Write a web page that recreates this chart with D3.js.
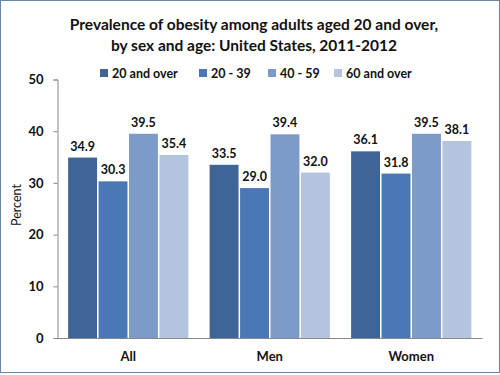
<!DOCTYPE html>
<html>
<head>
<meta charset="utf-8">
<script src="https://cdn.jsdelivr.net/npm/d3@7"></script>
<style>
  body { margin: 0; background: #fff; }
  svg { display: block; font-family: Lato, "Open Sans", sans-serif; }
</style>
</head>
<body>
<div id="chart"></div>
<script>
// obesity prevalence chart

var categories = ["All", "Men", "Women"];
var seriesNames = ["20 and over", "20 - 39", "40 - 59", "60 and over"];
var seriesColors = ["#3e6595", "#4a78b4", "#7c9bc9", "#b5c4de"];
var values = [
	[34.9, 30.3, 39.5, 35.4],
	[33.5, 29.0, 39.4, 32.0],
	[36.1, 31.8, 39.5, 38.1]
];
var yTicks = [0, 10, 20, 30, 40, 50];
var titleLines = ["Prevalence of obesity among adults aged 20 and over,",
	"by sex and age: United States, 2011-2012"];

var width = 500, height = 375;
var plotLeft = 57.5, plotRight = 482, plotTop = 79.5, plotBottom = 338;

var svg = d3.select('#chart')
	.append('svg')
	.attr('width', width)
	.attr('height', height);

svg.append('rect')
	.attr('x', 0.5).attr('y', 0.5)
	.attr('width', width - 1).attr('height', height - 3)
	.attr('fill', '#fff')
	.attr('stroke', '#6a86a6')
	.attr('stroke-width', 1);

var x = d3.scaleBand().domain(categories).range([plotLeft, plotRight]).paddingInner(0.15).paddingOuter(0.075);
var xs = d3.scaleBand().domain(seriesNames).range([0, x.bandwidth()]).paddingInner(0.05);
var y = d3.scaleLinear().domain([0, 50]).range([plotBottom, plotTop]);

// title
svg.selectAll('text.title')
	.data(titleLines)
	.enter()
	.append('text')
	.attr('class', 'title')
	.attr('x', 254)
	.attr('y', function(d, i) { return 30 + i * 20.5; })
	.attr('text-anchor', 'middle')
	.style('font-size', '15.5px')
	.style('font-weight', 'bold')
	.style('fill', '#111')
	.text(function(d) { return d; });

// legend
var legendX = [100, 199, 268, 334];
var legend = svg.selectAll('g.legend')
	.data(seriesNames)
	.enter()
	.append('g')
	.attr('class', 'legend')
	.attr('transform', function(d, i) { return 'translate(' + legendX[i] + ',73)'; });
legend.append('rect')
	.attr('x', 0).attr('y', -4)
	.attr('width', 8).attr('height', 8)
	.attr('fill', function(d, i) { return seriesColors[i]; });
legend.append('text')
	.attr('x', 12).attr('y', 4.5)
	.style('font-size', '12.5px')
	.style('font-weight', 'bold')
	.style('fill', '#111')
	.text(function(d) { return d; });

// y axis
var yAxis = svg.append('g')
	.attr('transform', 'translate(' + plotLeft + ',0)')
	.call(d3.axisLeft(y).tickValues(yTicks).tickSize(4).tickPadding(10));
yAxis.select('.domain').attr('stroke', '#888');
yAxis.selectAll('.tick line').attr('stroke', '#888');
yAxis.selectAll('.tick text')
	.style('font-size', '13px')
	.style('font-weight', 'bold')
	.style('font-family', 'Lato, sans-serif')
	.style('fill', '#111');

svg.append('text')
	.attr('transform', 'translate(21,205) rotate(-90)')
	.attr('text-anchor', 'middle')
	.style('font-size', '12.5px')
	.style('fill', '#111')
	.text('Percent');

// bars
var groups = svg.selectAll('g.group')
	.data(values)
	.enter()
	.append('g')
	.attr('class', 'group')
	.attr('transform', function(d, i) { return 'translate(' + x(categories[i]) + ',0)'; });

groups.selectAll('rect.bars')
	.data(function(d) { return d; })
	.enter()
	.append('rect')
	.attr('class', 'bars')
	.attr('x', function(d, i) { return xs(seriesNames[i]); })
	.attr('y', function(d) { return y(d); })
	.attr('width', xs.bandwidth())
	.attr('height', function(d) { return plotBottom - y(d); })
	.attr('fill', function(d, i) { return seriesColors[i]; });

groups.selectAll('text.val')
	.data(function(d) { return d; })
	.enter()
	.append('text')
	.attr('class', 'val')
	.attr('x', function(d, i) { return xs(seriesNames[i]) + xs.bandwidth() / 2; })
	.attr('y', function(d) { return y(d) - 7; })
	.attr('text-anchor', 'middle')
	.style('font-size', '12.5px')
	.style('font-weight', 'bold')
	.style('fill', '#111')
	.text(function(d) { return d.toFixed(1); });

// x axis
var xAxis = svg.append('g')
	.attr('transform', 'translate(0,' + plotBottom + ')')
	.call(d3.axisBottom(x).tickSize(0).tickPadding(14));
xAxis.select('.domain').attr('stroke', '#888');
xAxis.selectAll('.tick text')
	.style('font-size', '13px')
	.style('font-weight', 'bold')
	.style('font-family', 'Lato, sans-serif')
	.style('fill', '#111');
</script>
</body>
</html>
